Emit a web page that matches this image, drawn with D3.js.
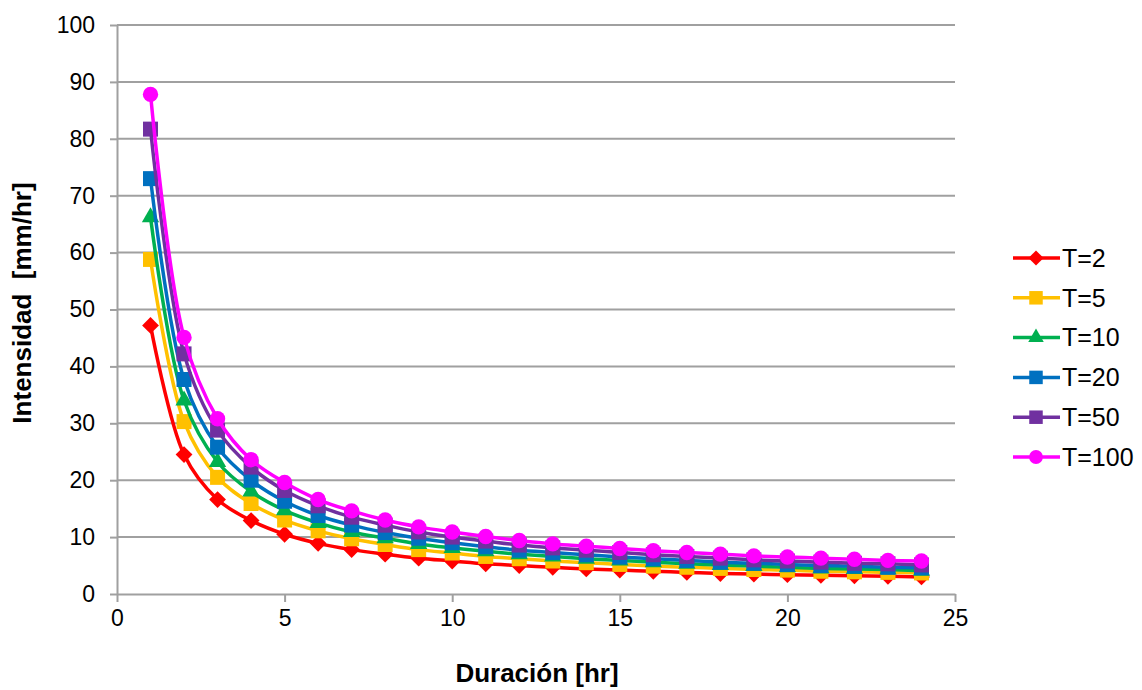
<!DOCTYPE html>
<html>
<head>
<meta charset="utf-8">
<script src="https://cdn.jsdelivr.net/npm/d3@7"></script>
<style>
  body { margin: 0; background: #fff; }
  svg { display: block; font-family: Arial, "Liberation Sans", sans-serif; }
  .axis path, .axis line { stroke: #a0a0a0; stroke-width: 2; }
  .axis text { font-size: 23px; fill: #000; }
  .grid line { stroke: #a0a0a0; stroke-width: 2; }
</style>
</head>
<body>
<svg id="chart" width="1142" height="690"></svg>
<script>
// Duración (hr) 1..24
const durations = [1, 2, 3, 4, 5, 6, 7, 8, 9, 10, 11, 12, 13, 14, 15, 16, 17, 18, 19, 20, 21, 22, 23, 24];

const seriesNames = ['T=2', 'T=5', 'T=10', 'T=20', 'T=50', 'T=100'];
const seriesColors = ['#ff0000', '#ffc000', '#00b050', '#0070c0', '#7030a0', '#ff00ff'];

// Intensidad (mm/hr)
const t2   = [47.2, 24.5, 16.6, 12.9, 10.5, 8.9, 7.8, 7.0, 6.3, 5.8, 5.3, 5.0, 4.7, 4.4, 4.2, 4.0, 3.8, 3.6, 3.5, 3.4, 3.3, 3.2, 3.1, 3.0];
const t5   = [58.8, 30.3, 20.5, 15.9, 13.0, 11.1, 9.7, 8.7, 7.8, 7.2, 6.6, 6.2, 5.8, 5.5, 5.2, 4.9, 4.7, 4.5, 4.3, 4.2, 4.0, 3.9, 3.8, 3.7];
const t10  = [66.2, 34.0, 23.2, 18.0, 14.7, 12.5, 10.9, 9.8, 8.8, 8.1, 7.5, 7.0, 6.6, 6.2, 5.9, 5.6, 5.3, 5.1, 4.9, 4.7, 4.5, 4.4, 4.3, 4.1];
const t20  = [73.0, 37.7, 25.8, 20.0, 16.3, 13.8, 12.1, 10.8, 9.8, 9.0, 8.3, 7.7, 7.3, 6.9, 6.5, 6.2, 5.9, 5.6, 5.4, 5.2, 5.0, 4.9, 4.7, 4.6];
const t50  = [81.7, 42.2, 28.8, 22.3, 18.2, 15.5, 13.5, 12.1, 10.9, 10.0, 9.3, 8.6, 8.1, 7.7, 7.3, 6.9, 6.6, 6.3, 6.0, 5.8, 5.6, 5.4, 5.3, 5.1];
const t100 = [87.8, 45.1, 30.8, 23.6, 19.6, 16.6, 14.6, 13.0, 11.8, 10.9, 10.1, 9.4, 8.8, 8.4, 8.0, 7.6, 7.3, 7.0, 6.7, 6.5, 6.3, 6.1, 5.9, 5.8];

const xTicks = [0, 5, 10, 15, 20, 25];
const yTicks = [0, 10, 20, 30, 40, 50, 60, 70, 80, 90, 100];

const seriesValues = [t2, t5, t10, t20, t50, t100];

// marker shapes, one per series
const markers = [
  d3.symbol().type(d3.symbolDiamond2).size(180),
  d3.symbol().type(d3.symbolSquare).size(225),
  d3.symbol().type(d3.symbolTriangle).size(130),
  d3.symbol().type(d3.symbolSquare).size(225),
  d3.symbol().type(d3.symbolSquare).size(225),
  d3.symbol().type(d3.symbolCircle).size(185)
];

const plot = { left: 117, right: 955, top: 25, bottom: 594 };

const svg = d3.select('#chart');

const x = d3.scaleLinear().domain([0, 25]).range([plot.left, plot.right]);
const y = d3.scaleLinear().domain([0, 100]).range([plot.bottom, plot.top]);

/*
 * Gridlines
 */
svg.append('g')
  .attr('class', 'grid')
  .selectAll('line')
  .data(yTicks.filter(d => d > 0))
  .join('line')
  .attr('x1', plot.left)
  .attr('x2', plot.right)
  .attr('y1', d => y(d))
  .attr('y2', d => y(d));

/*
 * Axes
 */
svg.append('g')
  .attr('class', 'axis yAxis')
  .attr('transform', `translate(${plot.left}, 0)`)
  .call(d3.axisLeft(y).tickValues(yTicks).tickSize(7).tickPadding(15).tickSizeOuter(0));

svg.append('g')
  .attr('class', 'axis xAxis')
  .attr('transform', `translate(0, ${plot.bottom})`)
  .call(d3.axisBottom(x).tickValues(xTicks).tickSize(8).tickPadding(8).tickSizeOuter(0));

svg.selectAll('.axis .domain').attr('stroke', '#a0a0a0').attr('stroke-width', 2);

/*
 * Series: smoothed line plus markers
 */
const line = d3.line()
  .x((d, i) => x(durations[i]))
  .y(d => y(d))
  .curve(d3.curveCatmullRom.alpha(0.5));

seriesValues.forEach((vals, s) => {
  const g = svg.append('g').attr('class', 'series');
  g.append('path')
    .attr('d', line(vals))
    .attr('fill', 'none')
    .attr('stroke', seriesColors[s])
    .attr('stroke-width', 3.5);
  g.selectAll('path.marker')
    .data(vals)
    .join('path')
    .attr('class', 'marker')
    .attr('d', markers[s])
    .attr('transform', (d, i) => `translate(${x(durations[i])}, ${y(d)})`)
    .attr('fill', seriesColors[s]);
});

/*
 * Legend
 */
const legend = svg.append('g').attr('class', 'legend');
seriesNames.forEach((name, s) => {
  const ly = 258 + s * 39.8;
  legend.append('line')
    .attr('x1', 1013).attr('x2', 1060)
    .attr('y1', ly).attr('y2', ly)
    .attr('stroke', seriesColors[s])
    .attr('stroke-width', 3.5);
  legend.append('path')
    .attr('d', markers[s])
    .attr('transform', `translate(1036, ${ly}) scale(0.9)`)
    .attr('fill', seriesColors[s]);
  legend.append('text')
    .attr('x', 1062)
    .attr('y', ly)
    .attr('dy', '0.35em')
    .style('font-size', '25px')
    .text(name);
});

/*
 * Axis titles
 */
svg.append('text')
  .attr('x', 537)
  .attr('y', 682)
  .attr('text-anchor', 'middle')
  .style('font-size', '26px')
  .style('font-weight', 'bold')
  .text('Duración [hr]');

svg.append('text')
  .attr('transform', 'translate(31, 303) rotate(-90)')
  .attr('text-anchor', 'middle')
  .style('font-size', '26px')
  .style('font-weight', 'bold')
  .style('white-space', 'pre')
  .text('Intensidad  [mm/hr]');
</script>
</body>
</html>
